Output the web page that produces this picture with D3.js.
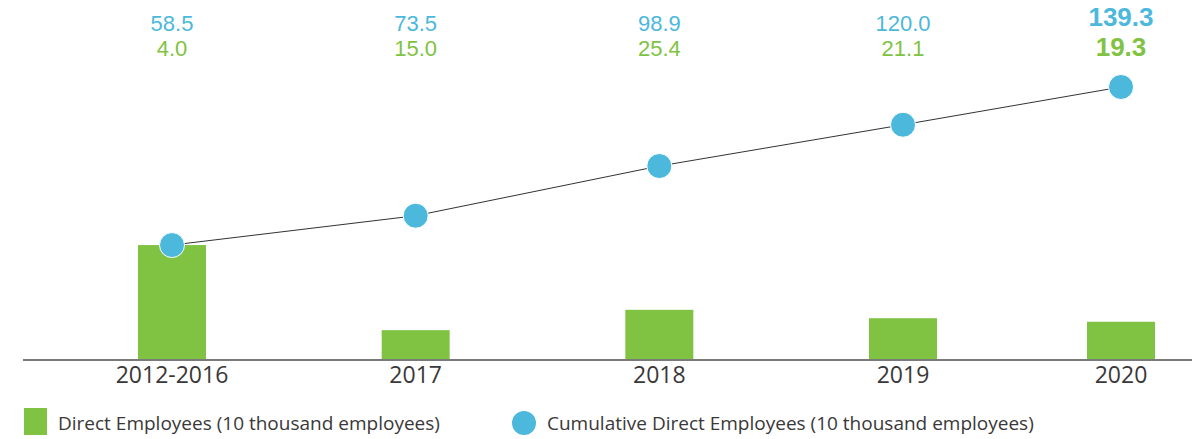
<!DOCTYPE html>
<html>
<head>
<meta charset="utf-8">
<script src="https://cdn.jsdelivr.net/npm/d3@7/dist/d3.min.js"></script>
<style>
  html, body { margin: 0; padding: 0; background: #fff; }
  svg { display: block; font-family: "Open Sans", "Noto Sans", sans-serif; }
  .value-label { font-family: "Liberation Sans", Arial, sans-serif; }
</style>
</head>
<body>
<svg id="chart" width="1200" height="439"></svg>
<script>
// Periods on the x axis
const categories = ["2012-2016", "2017", "2018", "2019", "2020"];
// Direct employees per period (10 thousand employees) – bar heights
const directEmployees = [58.5, 15.0, 25.4, 21.1, 19.3];
// Figures printed in green above each period
const directLabels = ["4.0", "15.0", "25.4", "21.1", "19.3"];
// Cumulative direct employees (10 thousand employees) – line points
const cumulative = [58.5, 73.5, 98.9, 120.0, 139.3];

const GREEN = "#80c342";
const BLUE = "#4cb8dc";
const TEXT = "#3a3838";

const svg = d3.select("#chart");

// x: category index -> centre; the last period sits a little closer in
const xIdx = d3.scaleLinear().domain([0, 3, 4]).range([172, 903, 1121]);
const x = c => xIdx(categories.indexOf(c));

const y = d3.scaleLinear().domain([0, 139.3]).range([359.5, 87]);
const barW = 68;

// bars
svg.append("g").selectAll("rect")
  .data(categories)
  .join("rect")
  .attr("x", c => x(c) - barW / 2)
  .attr("y", (c, i) => y(directEmployees[i]))
  .attr("width", barW)
  .attr("height", (c, i) => y(0) - y(directEmployees[i]))
  .attr("fill", GREEN);

// baseline
svg.append("line")
  .attr("x1", 23).attr("x2", 1192)
  .attr("y1", y(0) + 0.5).attr("y2", y(0) + 0.5)
  .attr("stroke", "#7a7a7a").attr("stroke-width", 2);

// category labels
svg.append("g").selectAll("text")
  .data(categories)
  .join("text")
  .attr("x", c => x(c))
  .attr("y", 383)
  .attr("text-anchor", "middle")
  .attr("font-size", 23)
  .attr("fill", TEXT)
  .text(c => c);

// cumulative line
const line = d3.line()
  .x((d, i) => x(categories[i]))
  .y(d => y(d));
svg.append("path")
  .datum(cumulative)
  .attr("d", line)
  .attr("fill", "none")
  .attr("stroke", "#333")
  .attr("stroke-width", 1);

svg.append("g").selectAll("circle")
  .data(cumulative)
  .join("circle")
  .attr("cx", (d, i) => x(categories[i]))
  .attr("cy", d => y(d))
  .attr("r", 12.5)
  .attr("fill", BLUE)
  .attr("stroke", "#fff")
  .attr("stroke-width", 1);

// value labels above each period: cumulative (blue) over direct (green);
// the latest year is emphasised
const last = categories.length - 1;
const valueGroup = svg.append("g").attr("class", "value-label");
valueGroup.selectAll("text.cum")
  .data(cumulative)
  .join("text")
  .attr("class", "cum")
  .attr("x", (d, i) => x(categories[i]))
  .attr("y", (d, i) => i === last ? 26 : 31)
  .attr("text-anchor", "middle")
  .attr("font-size", (d, i) => i === last ? 26 : 22)
  .attr("font-weight", (d, i) => i === last ? 700 : 400)
  .attr("fill", BLUE)
  .text(d => d.toFixed(1));
valueGroup.selectAll("text.dir")
  .data(directLabels)
  .join("text")
  .attr("class", "dir")
  .attr("x", (d, i) => x(categories[i]))
  .attr("y", 56)
  .attr("text-anchor", "middle")
  .attr("font-size", (d, i) => i === last ? 26 : 22)
  .attr("font-weight", (d, i) => i === last ? 700 : 400)
  .attr("fill", GREEN)
  .text(d => d);

// legend
const legend = svg.append("g");
legend.append("rect")
  .attr("x", 24).attr("y", 408).attr("width", 23).attr("height", 27)
  .attr("fill", GREEN);
legend.append("text")
  .attr("x", 58).attr("y", 430)
  .attr("font-size", 19).attr("fill", TEXT)
  .text("Direct Employees (10 thousand employees)");
legend.append("circle")
  .attr("cx", 524).attr("cy", 423).attr("r", 12)
  .attr("fill", BLUE);
legend.append("text")
  .attr("x", 547).attr("y", 430)
  .attr("font-size", 19).attr("fill", TEXT)
  .text("Cumulative Direct Employees (10 thousand employees)");
</script>
</body>
</html>
